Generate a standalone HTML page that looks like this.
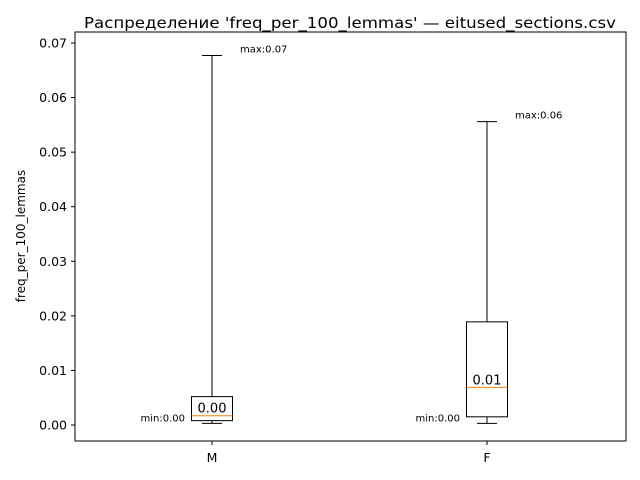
<!DOCTYPE html>
<html><head><meta charset="utf-8"><style>body{margin:0;background:#fff}svg{display:block;font-family:"DejaVu Sans","Liberation Sans",sans-serif}</style></head>
<body>
<svg id="chart" width="640" height="480" xmlns="http://www.w3.org/2000/svg"></svg>
<script>
const categories = ["M", "F"];
const whiskerLow = [0.0003, 0.0003];
const q1 = [0.0008, 0.0015];
const median = [0.0017, 0.0069];
const q3 = [0.0052, 0.0189];
const whiskerHigh = [0.0677, 0.0556];
const medianLabels = ["0.00", "0.01"];
const minLabels = ["min:0.00", "min:0.00"];
const maxLabels = ["max:0.07", "max:0.06"];
const yTicks = [0, 0.01, 0.02, 0.03, 0.04, 0.05, 0.06, 0.07];

const NS = "http://www.w3.org/2000/svg";
const svg = document.getElementById("chart");
const L = 75, R = 626, T = 32, B = 441;
const y = v => 425 - v * (425 - 43) / 0.07;
const x = i => 212 + i * 275;
function mk(tag, attrs, parent) {
  const e = document.createElementNS(NS, tag);
  for (const k in attrs) e.setAttribute(k, attrs[k]);
  (parent || svg).appendChild(e);
  return e;
}
const title = mk("text", {x: 84, y: 28, "font-size": 15, textLength: 532, lengthAdjust: "spacingAndGlyphs", fill: "#000"});


title.textContent = "Распределение 'freq_per_100_lemmas' — eitused_sections.csv";
const yt = mk("text", {x: 0, y: 0, transform: "translate(25,236) rotate(-90)", "text-anchor": "middle", "font-size": 12});


yt.textContent = "freq_per_100_lemmas";
yTicks.forEach(t => {
  const g = mk("g", {});
  
  
  mk("line", {x1: L - 4, x2: L, y1: y(t), y2: y(t), stroke: "#000"}, g);
  const tx = mk("text", {x: L - 8, y: y(t) + 4.5, "text-anchor": "end", "font-size": 12.5}, g);
  tx.textContent = t.toFixed(2);
});
categories.forEach((c, i) => {
  const cx = x(i);
  const g = mk("g", {});
  
  
  mk("line", {x1: cx, x2: cx, y1: y(q3[i]), y2: y(whiskerHigh[i]), stroke: "#000"}, g);
  mk("line", {x1: cx, x2: cx, y1: y(q1[i]), y2: y(whiskerLow[i]), stroke: "#000"}, g);
  mk("line", {x1: cx - 10, x2: cx + 10, y1: y(whiskerHigh[i]), y2: y(whiskerHigh[i]), stroke: "#000"}, g);
  mk("line", {x1: cx - 10, x2: cx + 10, y1: y(whiskerLow[i]), y2: y(whiskerLow[i]), stroke: "#000"}, g);
  mk("rect", {x: cx - 20.5, y: y(q3[i]), width: 41, height: y(q1[i]) - y(q3[i]), fill: "none", stroke: "#000"}, g);
  mk("line", {x1: cx - 20.5, x2: cx + 20.5, y1: y(median[i]), y2: y(median[i]), stroke: "#ff7f0e"}, g);
  const ml = mk("text", {x: cx, y: y(median[i]) - 3, "text-anchor": "middle", "font-size": 13}, g);
  ml.textContent = medianLabels[i];
  const mn = mk("text", {x: cx - 27, y: y(whiskerLow[i]) - 2, "text-anchor": "end", "font-size": 10}, g);
  mn.textContent = minLabels[i];
  const mx = mk("text", {x: cx + 28, y: y(whiskerHigh[i]) - 3, "font-size": 10}, g);
  mx.textContent = maxLabels[i];
  mk("line", {x1: cx, x2: cx, y1: B, y2: B + 4, stroke: "#000"});
  const xl = mk("text", {x: cx, y: B + 21, "text-anchor": "middle", "font-size": 12.5});
  
  
  xl.textContent = c;
});
const frame = mk("rect", {x: L, y: T, width: R - L, height: B - T, fill: "none", stroke: "#000"});


</script>
</body></html>
